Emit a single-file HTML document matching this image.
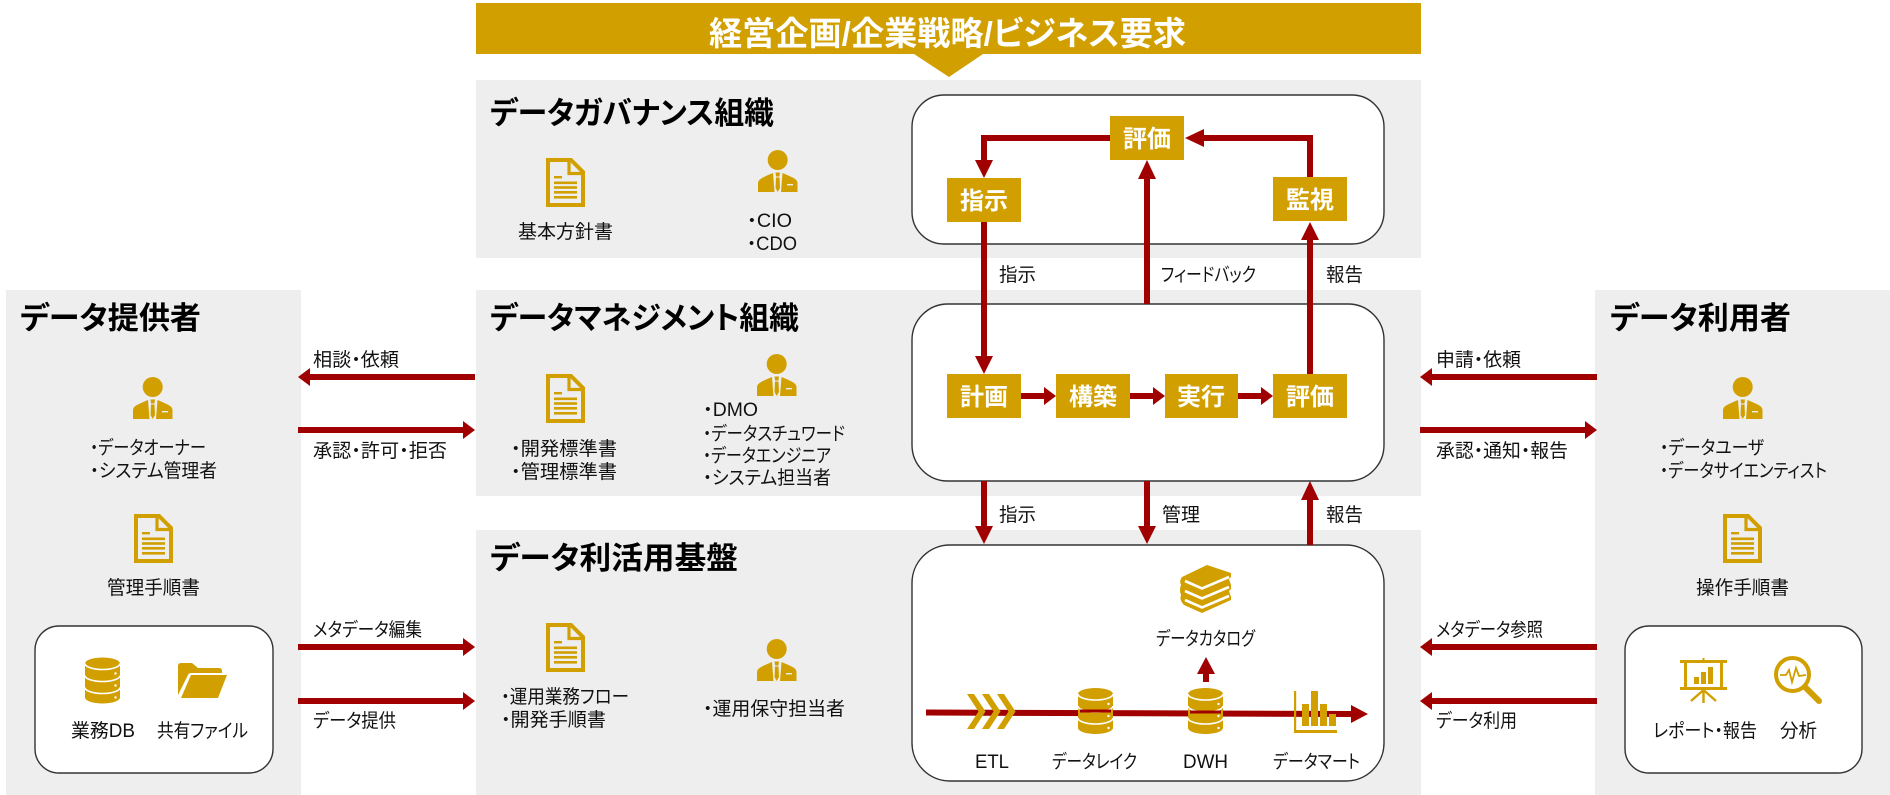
<!DOCTYPE html>
<html lang="ja">
<head>
<meta charset="utf-8">
<title>データガバナンス体制図</title>
<style>
html,body{margin:0;padding:0;background:#fff;width:1890px;height:795px;overflow:hidden}
svg{display:block}
text{font-family:"Liberation Sans","Noto Sans CJK JP",sans-serif;font-feature-settings:"palt";fill:#111;font-size:19px}
.t{font-size:31px;font-weight:700;fill:#000}
.b{font-size:24px;font-weight:700;fill:#fff;text-anchor:middle}
.h{font-size:33px;font-weight:700;fill:#fff}
.ln{fill:none;stroke:#A00000;stroke-width:6}
.ar{fill:#A00000}
.box{fill:#D1A000}
.rb{fill:#fff;stroke:#333;stroke-width:1.4}
</style>
</head>
<body>
<svg xmlns="http://www.w3.org/2000/svg" width="1890" height="795" viewBox="0 0 1890 795">
<defs>
<symbol id="doc" viewBox="0 0 39 49" overflow="visible">
<path d="M2 2H25L37 14V47H2Z" fill="none" stroke="#D1A000" stroke-width="4"/>
<path d="M23 1.5V15.500H37" fill="none" stroke="#D1A000" stroke-width="3.200"/>
<g fill="#D1A000"><rect x="8" y="18" width="8" height="2.400"/><rect x="8" y="23.500" width="23" height="2.600"/><rect x="8" y="28.200" width="23" height="2.600"/><rect x="8" y="33" width="23" height="2.600"/><rect x="8" y="38" width="23" height="2.600"/></g>
</symbol>
<symbol id="per" viewBox="0 0 40 42" overflow="visible">
<g fill="#D1A000">
<circle cx="19.7" cy="10" r="10"/>
<path d="M0 42V33.5C0 29.5 3 28 15 23L16.5 42Z"/>
<path d="M39.5 42V33.5C39.5 29.5 36.5 28 24.5 23L23 42Z"/>
<path d="M17.5 22.5H22L21.4 26.5H18.1Z"/>
<path d="M18 27.5H21.5L22 38L19.7 42L17.5 38Z"/>
</g>
<rect x="29" y="34" width="6" height="1.4" fill="#eee"/>
</symbol>
<symbol id="cyl" viewBox="0 0 35 46" overflow="visible">
<path d="M0 6A17.5 6 0 0 1 35 6V40A17.5 6 0 0 1 0 40Z" fill="#D1A000"/>
<g fill="none" stroke="#fff" stroke-width="1.6"><path d="M0 6A17.5 6 0 0 0 35 6"/><path d="M0 18A17.5 6 0 0 0 35 18"/><path d="M0 30A17.5 6 0 0 0 35 30"/></g>
<g fill="#fff"><circle cx="30.5" cy="16" r="1.2"/><circle cx="30.5" cy="28" r="1.2"/><circle cx="30.5" cy="40" r="1.2"/></g>
</symbol>
</defs>

<!-- panels -->
<g fill="#EEEEEE">
<rect x="476" y="80" width="945" height="178"/>
<rect x="476" y="290" width="945" height="206"/>
<rect x="476" y="530" width="945" height="265"/>
<rect x="6" y="290" width="295" height="505"/>
<rect x="1595" y="290" width="295" height="505"/>
</g>

<!-- header -->
<rect x="476" y="3" width="945" height="51" class="box"/>
<polygon points="914,54 983,54 949,77" class="box"/>
<text class="h" x="709" y="45" textLength="477" lengthAdjust="spacingAndGlyphs">経営企画/企業戦略/ビジネス要求</text>

<!-- rounded boxes -->
<rect x="912" y="95" width="472" height="149" rx="32" class="rb"/>
<rect x="912" y="304" width="472" height="177" rx="36" class="rb"/>
<rect x="912" y="545" width="472" height="236" rx="38" class="rb"/>
<rect x="35" y="626" width="238" height="147" rx="24" class="rb"/>
<rect x="1625" y="626" width="237" height="147" rx="24" class="rb"/>

<!-- titles -->
<text class="t" x="490" y="124" textLength="284" lengthAdjust="spacingAndGlyphs">データガバナンス組織</text>
<text class="t" x="490" y="329" textLength="309" lengthAdjust="spacingAndGlyphs">データマネジメント組織</text>
<text class="t" x="490" y="569" textLength="248" lengthAdjust="spacingAndGlyphs">データ利活用基盤</text>
<text class="t" x="20" y="329" textLength="181" lengthAdjust="spacingAndGlyphs">データ提供者</text>
<text class="t" x="1610" y="329" textLength="181" lengthAdjust="spacingAndGlyphs">データ利用者</text>

<!-- center connectors -->
<path class="ln" d="M1110 138H984V160"/>
<polygon class="ar" points="975,160 993,160 984,178"/>
<path class="ln" d="M1310 177V138H1202"/>
<polygon class="ar" points="1204,129 1204,147 1185,138"/>
<path class="ln" d="M1147 304V178"/>
<polygon class="ar" points="1138,179 1156,179 1147,160"/>
<path class="ln" d="M984 222V358"/>
<polygon class="ar" points="975,356 993,356 984,374"/>
<path class="ln" d="M1310 374V238"/>
<polygon class="ar" points="1301,240 1319,240 1310,222"/>
<path class="ln" d="M984 481V528"/>
<polygon class="ar" points="975,526 993,526 984,544"/>
<path class="ln" d="M1147 481V528"/>
<polygon class="ar" points="1138,526 1156,526 1147,544"/>
<path class="ln" d="M1310 545V498"/>
<polygon class="ar" points="1301,500 1319,500 1310,481"/>
<path class="ln" d="M1021 396H1046"/>
<polygon class="ar" points="1044,387 1044,405 1056,396"/>
<path class="ln" d="M1130 396H1155"/>
<polygon class="ar" points="1153,387 1153,405 1165,396"/>
<path class="ln" d="M1238 396H1263"/>
<polygon class="ar" points="1261,387 1261,405 1273,396"/>

<!-- gold boxes -->
<rect x="1110" y="116" width="74" height="44" class="box"/>
<rect x="947" y="178" width="74" height="44" class="box"/>
<rect x="1273" y="177" width="74" height="44" class="box"/>
<rect x="947" y="374" width="74" height="44" class="box"/>
<rect x="1056" y="374" width="74" height="44" class="box"/>
<rect x="1165" y="374" width="73" height="44" class="box"/>
<rect x="1273" y="374" width="74" height="44" class="box"/>
<text class="b" x="1147" y="147">評価</text>
<text class="b" x="984" y="209">指示</text>
<text class="b" x="1310" y="208">監視</text>
<text class="b" x="984" y="405">計画</text>
<text class="b" x="1093" y="405">構築</text>
<text class="b" x="1201" y="405">実行</text>
<text class="b" x="1310" y="405">評価</text>

<!-- side connectors -->
<path class="ln" d="M475 377H308"/><polygon class="ar" points="310,368 310,386 298,377"/>
<path class="ln" d="M298 430H465"/><polygon class="ar" points="463,421 463,439 475,430"/>
<path class="ln" d="M298 647H465"/><polygon class="ar" points="463,638 463,656 475,647"/>
<path class="ln" d="M298 701H465"/><polygon class="ar" points="463,692 463,710 475,701"/>
<path class="ln" d="M1597 377H1430"/><polygon class="ar" points="1432,368 1432,386 1420,377"/>
<path class="ln" d="M1420 430H1587"/><polygon class="ar" points="1585,421 1585,439 1597,430"/>
<path class="ln" d="M1597 647H1430"/><polygon class="ar" points="1432,638 1432,656 1420,647"/>
<path class="ln" d="M1597 701H1430"/><polygon class="ar" points="1432,692 1432,710 1420,701"/>

<!-- connector labels -->
<text x="313" y="366" textLength="86" lengthAdjust="spacingAndGlyphs">相談・依頼</text>
<text x="313" y="457" textLength="134" lengthAdjust="spacingAndGlyphs">承認・許可・拒否</text>
<text x="313" y="636" textLength="109" lengthAdjust="spacingAndGlyphs">メタデータ編集</text>
<text x="313" y="727" textLength="83" lengthAdjust="spacingAndGlyphs">データ提供</text>
<text x="1436" y="366" textLength="85" lengthAdjust="spacingAndGlyphs">申請・依頼</text>
<text x="1436" y="457" textLength="132" lengthAdjust="spacingAndGlyphs">承認・通知・報告</text>
<text x="1436" y="636" textLength="107" lengthAdjust="spacingAndGlyphs">メタデータ参照</text>
<text x="1436" y="727" textLength="81" lengthAdjust="spacingAndGlyphs">データ利用</text>
<text x="999" y="281" textLength="37" lengthAdjust="spacingAndGlyphs">指示</text>
<text x="1161" y="281" textLength="95" lengthAdjust="spacingAndGlyphs">フィードバック</text>
<text x="1326" y="281" textLength="37" lengthAdjust="spacingAndGlyphs">報告</text>
<text x="999" y="521" textLength="37" lengthAdjust="spacingAndGlyphs">指示</text>
<text x="1162" y="521" textLength="38" lengthAdjust="spacingAndGlyphs">管理</text>
<text x="1326" y="521" textLength="37" lengthAdjust="spacingAndGlyphs">報告</text>

<!-- governance content -->
<use href="#doc" x="546" y="158" width="39" height="49"/>
<use href="#per" x="758" y="150" width="40" height="42"/>
<text x="518" y="238" textLength="95" lengthAdjust="spacingAndGlyphs">基本方針書</text>
<text x="747" y="227" textLength="45" lengthAdjust="spacingAndGlyphs">・CIO</text>
<text x="747" y="250" textLength="50" lengthAdjust="spacingAndGlyphs">・CDO</text>

<!-- management content -->
<use href="#doc" x="546" y="374" width="39" height="49"/>
<use href="#per" x="757" y="354" width="40" height="42"/>
<text x="511" y="455" textLength="106" lengthAdjust="spacingAndGlyphs">・開発標準書</text>
<text x="511" y="478" textLength="106" lengthAdjust="spacingAndGlyphs">・管理標準書</text>
<text x="703" y="416" textLength="55" lengthAdjust="spacingAndGlyphs">・DMO</text>
<text x="703" y="440" textLength="142" lengthAdjust="spacingAndGlyphs">・データスチュワード</text>
<text x="703" y="462" textLength="128" lengthAdjust="spacingAndGlyphs">・データエンジニア</text>
<text x="703" y="484" textLength="128" lengthAdjust="spacingAndGlyphs">・システム担当者</text>

<!-- platform content -->
<use href="#doc" x="546" y="623" width="39" height="49"/>
<use href="#per" x="757" y="639" width="40" height="42"/>
<text x="501" y="703" textLength="128" lengthAdjust="spacingAndGlyphs">・運用業務フロー</text>
<text x="501" y="726" textLength="105" lengthAdjust="spacingAndGlyphs">・開発手順書</text>
<text x="703" y="715" textLength="142" lengthAdjust="spacingAndGlyphs">・運用保守担当者</text>

<!-- pipeline -->
<path class="ln" d="M926 712.5L1353 714"/>
<polygon class="ar" points="1351,705 1351,723 1368,714"/>
<g fill="#D1A000">
<polygon points="967,694 974,694 985.5,711.5 974,729 967,729 978.5,711.5"/>
<polygon points="982,694 989,694 1000.5,711.5 989,729 982,729 993.5,711.5"/>
<polygon points="997,694 1004,694 1015.5,711.5 1004,729 997,729 1008.5,711.5"/>
</g>
<use href="#cyl" x="1078" y="688" width="35" height="46"/>
<use href="#cyl" x="1188" y="688" width="35" height="46"/>
<rect x="1080" y="709.5" width="31" height="3" fill="#A00000"/>
<rect x="1190" y="710.5" width="31" height="3" fill="#A00000"/>
<g fill="#D1A000">
<rect x="1294" y="691" width="2.2" height="42"/><rect x="1294" y="730" width="43" height="3"/>
<rect x="1302" y="704" width="7" height="22"/><rect x="1311" y="691" width="7" height="35"/><rect x="1320" y="704" width="7" height="22"/><rect x="1329" y="714" width="7" height="12"/>
</g>
<!-- books -->
<path d="M1182 577L1207 565L1231 573V577L1229 579L1231 585V589L1229 591L1231 597V600L1202 613L1184 605Q1179 600 1181 595Q1179 590 1181 585Q1179 581 1182 577Z" fill="#D1A000"/>
<g fill="none" stroke="#fff" stroke-width="2.600">
<path d="M1185 581L1202 588.500L1229 577"/>
<path d="M1185 591L1202 598.500L1229 587"/>
<path d="M1185 600L1202 607.500L1229 596"/>
</g>
<text x="1156" y="645" textLength="99" lengthAdjust="spacingAndGlyphs">データカタログ</text>
<path class="ln" d="M1206 682V672"/>
<polygon class="ar" points="1197,674 1215,674 1206,657"/>
<text x="975" y="768" textLength="34" lengthAdjust="spacingAndGlyphs">ETL</text>
<text x="1052" y="768" textLength="85" lengthAdjust="spacingAndGlyphs">データレイク</text>
<text x="1183" y="768" textLength="45" lengthAdjust="spacingAndGlyphs">DWH</text>
<text x="1273" y="768" textLength="87" lengthAdjust="spacingAndGlyphs">データマート</text>

<!-- provider -->
<use href="#per" x="133" y="377" width="40" height="42"/>
<text x="90" y="454" textLength="116" lengthAdjust="spacingAndGlyphs">・データオーナー</text>
<text x="90" y="477" textLength="127" lengthAdjust="spacingAndGlyphs">・システム管理者</text>
<use href="#doc" x="134" y="514" width="39" height="49"/>
<text x="107" y="594" textLength="93" lengthAdjust="spacingAndGlyphs">管理手順書</text>
<use href="#cyl" x="85" y="657" width="35" height="47"/>
<g fill="#D1A000">
<path d="M178 695V666Q178 663 181 663H192L198 668H219Q222 668 222 671V673H191Q189 673 188 675Z"/>
<path d="M181 698L191 675H227L218 698Z"/>
</g>
<text x="71" y="737" textLength="64" lengthAdjust="spacingAndGlyphs">業務DB</text>
<text x="157" y="737" textLength="91" lengthAdjust="spacingAndGlyphs">共有ファイル</text>

<!-- consumer -->
<use href="#per" x="1723" y="377" width="40" height="42"/>
<text x="1660" y="454" textLength="104" lengthAdjust="spacingAndGlyphs">・データユーザ</text>
<text x="1660" y="477" textLength="167" lengthAdjust="spacingAndGlyphs">・データサイエンティスト</text>
<use href="#doc" x="1723" y="514" width="39" height="49"/>
<text x="1696" y="594" textLength="93" lengthAdjust="spacingAndGlyphs">操作手順書</text>
<!-- presentation icon -->
<g fill="#D1A000">
<rect x="1702.5" y="658" width="2" height="3"/>
<rect x="1680" y="660" width="47" height="3"/>
<rect x="1684" y="663" width="3" height="24"/><rect x="1720" y="663" width="3" height="24"/>
<rect x="1680" y="687" width="47" height="3"/>
<rect x="1694" y="677" width="5" height="7"/><rect x="1701" y="672" width="5" height="12"/><rect x="1708" y="667" width="5" height="17"/>
</g>
<path d="M1703.500 690V703M1703.500 690L1691 701M1703.500 690L1716 701" fill="none" stroke="#D1A000" stroke-width="2.400"/>
<!-- magnifier icon -->
<g fill="none" stroke="#D1A000">
<circle cx="1792.500" cy="674.500" r="16.500" stroke-width="4"/>
<path d="M1805 687L1819 701" stroke-width="6" stroke-linecap="round"/>
<path d="M1780 675H1786L1789 670L1792 682L1796 668L1799 676L1806 675" stroke-width="1.800"/>
</g>
<text x="1653" y="737" textLength="104" lengthAdjust="spacingAndGlyphs">レポート・報告</text>
<text x="1780" y="737" textLength="37" lengthAdjust="spacingAndGlyphs">分析</text>
</svg>
</body>
</html>
